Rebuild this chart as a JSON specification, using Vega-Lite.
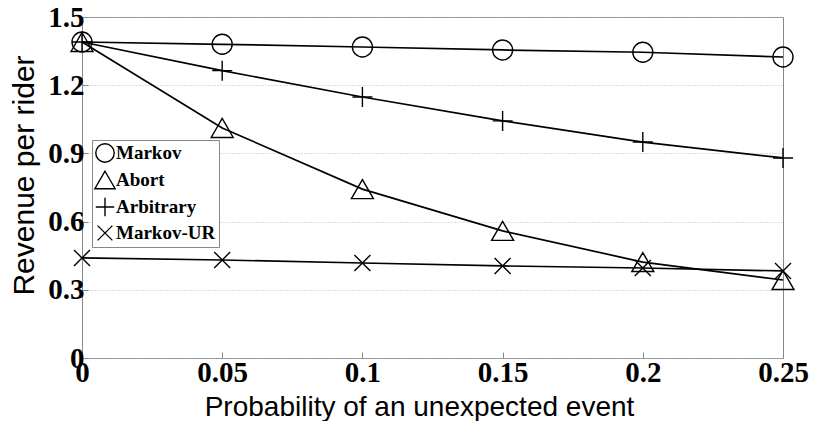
{
  "$schema": "https://vega.github.io/schema/vega-lite/v6.json",
  "autosize": "none",
  "width": 701,
  "height": 341,
  "padding": {"left": 82, "top": 17, "right": 31, "bottom": 63},
  "background": "white",
  "config": {
    "view": {"stroke": "#888888", "strokeWidth": 1},
    "axis": {
      "labelFont": "Liberation Serif",
      "labelFontWeight": "bold",
      "labelFontSize": 29,
      "labelColor": "black",
      "titleFont": "Liberation Sans",
      "titleFontWeight": "normal",
      "titleFontSize": 28,
      "titleColor": "black",
      "domain": false,
      "tickColor": "#888888",
      "tickSize": -6,
      "gridColor": "#bbbbbb",
      "gridDash": [1, 2],
      "gridWidth": 1
    },
    "legend": {
      "orient": "none",
      "legendX": 10,
      "legendY": 123,
      "strokeColor": "#888888",
      "fillColor": "white",
      "padding": 3,
      "rowPadding": 2,
      "labelFont": "Liberation Serif",
      "labelFontWeight": "bold",
      "labelFontSize": 19,
      "labelColor": "black",
      "symbolSize": 340,
      "symbolStrokeColor": "black",
      "symbolFillColor": "transparent",
      "symbolStrokeWidth": 1.4,
      "labelOffset": 1,
      "title": null
    }
  },
  "data": {
    "values": [
      {"p": 0, "series": "Markov", "rev": 1.39},
      {"p": 0.05, "series": "Markov", "rev": 1.38},
      {"p": 0.1, "series": "Markov", "rev": 1.368},
      {"p": 0.15, "series": "Markov", "rev": 1.355},
      {"p": 0.2, "series": "Markov", "rev": 1.345},
      {"p": 0.25, "series": "Markov", "rev": 1.324},
      {"p": 0, "series": "Abort", "rev": 1.39},
      {"p": 0.05, "series": "Abort", "rev": 1.012},
      {"p": 0.1, "series": "Abort", "rev": 0.743},
      {"p": 0.15, "series": "Abort", "rev": 0.559},
      {"p": 0.2, "series": "Abort", "rev": 0.422},
      {"p": 0.25, "series": "Abort", "rev": 0.343},
      {"p": 0, "series": "Arbitrary", "rev": 1.39},
      {"p": 0.05, "series": "Arbitrary", "rev": 1.264},
      {"p": 0.1, "series": "Arbitrary", "rev": 1.148},
      {"p": 0.15, "series": "Arbitrary", "rev": 1.043},
      {"p": 0.2, "series": "Arbitrary", "rev": 0.95},
      {"p": 0.25, "series": "Arbitrary", "rev": 0.88},
      {"p": 0, "series": "Markov-UR", "rev": 0.44},
      {"p": 0.05, "series": "Markov-UR", "rev": 0.431},
      {"p": 0.1, "series": "Markov-UR", "rev": 0.418},
      {"p": 0.15, "series": "Markov-UR", "rev": 0.405},
      {"p": 0.2, "series": "Markov-UR", "rev": 0.396},
      {"p": 0.25, "series": "Markov-UR", "rev": 0.383}
    ]
  },
  "encoding": {
    "x": {
      "field": "p",
      "type": "quantitative",
      "scale": {"domain": [0, 0.25], "nice": false, "zero": false},
      "axis": {
        "title": "Probability of an unexpected event",
        "values": [0, 0.05, 0.1, 0.15, 0.2, 0.25],
        "labelExpr": "'' + datum.value",
        "grid": false,
        "labelPadding": 6,
        "labelFlush": false,
        "titleX": 337,
        "titleY": 35,
        "titleBaseline": "top"
      }
    },
    "y": {
      "field": "rev",
      "type": "quantitative",
      "scale": {"domain": [0, 1.5], "nice": false},
      "axis": {
        "title": "Revenue per rider",
        "values": [0, 0.3, 0.6, 0.9, 1.2, 1.5],
        "labelExpr": "datum.value == 0 ? '0' : format(datum.value, '.1f')",
        "labelPadding": 4,
        "labelFlush": false,
        "titleFontSize": 30,
        "titleX": -43,
        "titleY": 158,
        "titleAngle": -90,
        "titleAlign": "center",
        "titleBaseline": "bottom",
        "encode": {"labels": {"update": {"dy": {"signal": "datum.value == 0 ? -12 : 0"}}}}
      }
    }
  },
  "layer": [
    {
      "mark": {"type": "line", "color": "black", "strokeWidth": 1.7},
      "encoding": {"detail": {"field": "series"}}
    },
    {
      "mark": {"type": "point", "filled": false, "stroke": "black", "strokeWidth": 1.4, "size": 400, "opacity": 1},
      "encoding": {
        "shape": {
          "field": "series",
          "type": "nominal",
          "scale": {
            "domain": ["Markov", "Abort", "Arbitrary", "Markov-UR"],
            "range": ["circle", "M0,-0.95L1.1,0.95L-1.1,0.95Z", "M-1,0H1M0,-1V1", "M-0.8,-0.8L0.8,0.8M-0.8,0.8L0.8,-0.8"]
          }
        }
      }
    }
  ]
}
